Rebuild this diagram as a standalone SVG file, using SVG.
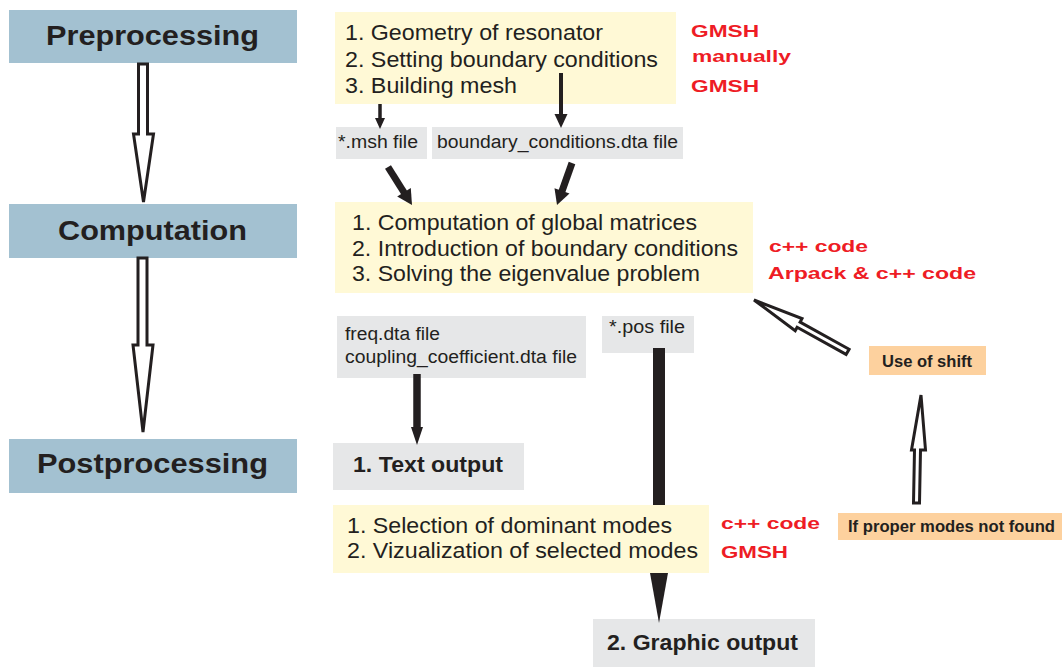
<svg xmlns="http://www.w3.org/2000/svg" width="1063" height="667" viewBox="0 0 1063 667">
<style>
.stage{fill:#a3c1d1}
.yel{fill:#fff9d6}
.gry{fill:#e6e7e8}
.org{fill:#fdd19e}
.t{font-family:"Liberation Sans",Arial,sans-serif;fill:#231f20}
.big{font-size:28px;font-weight:bold}
.main{font-size:22px}
.file{font-size:18px}
.out{font-size:22px;font-weight:bold}
.note{font-size:16px;font-weight:bold}
.red{font-family:"Liberation Sans",Arial,sans-serif;font-size:16px;font-weight:bold;fill:#ee1c25}
.hollow{fill:#fff;stroke:#231f20;stroke-width:3;stroke-linejoin:miter}
.solid{fill:#231f20}
.shaft{stroke:#231f20;fill:none}
</style>
<rect width="1063" height="667" fill="#fff"/>

<g id="preprocessing">
<rect class="stage" x="9" y="10" width="288" height="53"/>
<text class="t big" x="46" y="45" textLength="213" lengthAdjust="spacingAndGlyphs">Preprocessing</text>
</g>
<g id="computation">
<rect class="stage" x="9" y="204" width="288" height="54"/>
<text class="t big" x="58" y="240" textLength="189" lengthAdjust="spacingAndGlyphs">Computation</text>
</g>
<g id="postprocessing">
<rect class="stage" x="9" y="439" width="288" height="54"/>
<text class="t big" x="37" y="473" textLength="231" lengthAdjust="spacingAndGlyphs">Postprocessing</text>
</g>

<g id="pre-steps">
<rect class="yel" x="335" y="12" width="341" height="92"/>
<text class="t main" x="345" y="40" textLength="258" lengthAdjust="spacingAndGlyphs">1. Geometry of resonator</text>
<text class="t main" x="345" y="67" textLength="313" lengthAdjust="spacingAndGlyphs">2. Setting boundary conditions</text>
<text class="t main" x="345" y="93" textLength="172" lengthAdjust="spacingAndGlyphs">3. Building mesh</text>
</g>
<g id="pre-tools">
<text class="red" x="691" y="37" textLength="68" lengthAdjust="spacingAndGlyphs">GMSH</text>
<text class="red" x="692" y="62" textLength="99" lengthAdjust="spacingAndGlyphs">manually</text>
<text class="red" x="691" y="92" textLength="68" lengthAdjust="spacingAndGlyphs">GMSH</text>
</g>
<g id="msh-file">
<rect class="gry" x="336" y="127" width="91" height="32"/>
<text class="t file" x="338" y="148" textLength="80" lengthAdjust="spacingAndGlyphs">*.msh file</text>
</g>
<g id="bc-file">
<rect class="gry" x="432" y="127" width="251" height="32"/>
<text class="t file" x="437" y="148" textLength="241" lengthAdjust="spacingAndGlyphs">boundary_conditions.dta file</text>
</g>

<g id="comp-steps">
<rect class="yel" x="335" y="202" width="418" height="91"/>
<text class="t main" x="352" y="230" textLength="345" lengthAdjust="spacingAndGlyphs">1. Computation of global matrices</text>
<text class="t main" x="352" y="256" textLength="386" lengthAdjust="spacingAndGlyphs">2. Introduction of boundary conditions</text>
<text class="t main" x="352" y="281" textLength="348" lengthAdjust="spacingAndGlyphs">3. Solving the eigenvalue problem</text>
</g>
<g id="comp-tools">
<text class="red" x="769" y="252" textLength="99" lengthAdjust="spacingAndGlyphs">c++ code</text>
<text class="red" x="768" y="279" textLength="208" lengthAdjust="spacingAndGlyphs">Arpack &amp; c++ code</text>
</g>

<g id="freq-files">
<rect class="gry" x="337" y="316" width="249" height="62"/>
<text class="t file" x="345" y="340" textLength="95" lengthAdjust="spacingAndGlyphs">freq.dta file</text>
<text class="t file" x="345" y="363" textLength="232" lengthAdjust="spacingAndGlyphs">coupling_coefficient.dta file</text>
</g>
<g id="pos-file">
<rect class="gry" x="602" y="316" width="92" height="37"/>
<text class="t file" x="609" y="333" textLength="76" lengthAdjust="spacingAndGlyphs">*.pos file</text>
</g>
<g id="text-output">
<rect class="gry" x="333" y="443" width="191" height="47"/>
<text class="t out" x="353" y="472" textLength="150" lengthAdjust="spacingAndGlyphs">1. Text output</text>
</g>
<g id="graphic-output">
<rect class="gry" x="593" y="619" width="222" height="48"/>
<text class="t out" x="607" y="650" textLength="191" lengthAdjust="spacingAndGlyphs">2. Graphic output</text>
</g>
<g id="use-of-shift">
<rect class="org" x="869" y="346" width="117" height="29"/>
<text class="t note" x="882" y="367" textLength="90" lengthAdjust="spacingAndGlyphs">Use of shift</text>
</g>
<g id="modes-not-found">
<rect class="org" x="838" y="513" width="224" height="27"/>
<text class="t note" x="848" y="532" textLength="207" lengthAdjust="spacingAndGlyphs">If proper modes not found</text>
</g>

<g id="connectors">
<polygon class="hollow" points="138.5,64 147.5,64 147.5,134 153.5,134 143.5,202 133.5,134 138.5,134"/>
<polygon class="hollow" points="138,258 147,258 147,345 153,345 143,432 133,345 138,345"/>
<line class="shaft" x1="380" y1="104" x2="380" y2="119" stroke-width="3.5"/>
<polygon class="solid" points="375,118 385,118 380,129"/>
<line class="shaft" x1="561" y1="73" x2="561" y2="115" stroke-width="4"/>
<polygon class="solid" points="554.5,114 567.5,114 561,128"/>
<line class="shaft" x1="388" y1="167" x2="405" y2="194" stroke-width="7"/>
<polygon class="solid" points="397.2,196.6 410.8,188 412,205"/>
<line class="shaft" x1="572" y1="163" x2="561.7" y2="192" stroke-width="7"/>
<polygon class="solid" points="554.5,188.2 569.5,193.6 557,205"/>
<line class="shaft" x1="417" y1="374" x2="417" y2="428" stroke-width="7.5"/>
<polygon class="solid" points="411,427 423,427 417,445"/>
<rect class="solid" x="653" y="348" width="12" height="226"/>
<polygon class="solid" points="650,573 668,573 659,623"/>
<polygon class="hollow" points="754,300 802,318.6 800.1,322.1 849.1,349.2 846.1,354.4 797.1,327.3 795.2,330.8"/>
<polygon class="hollow" points="921,395 925.5,450 920.5,450 919.5,503 913.5,503 914.5,450 911.5,450"/>
</g>

<g id="post-steps">
<rect class="yel" x="333" y="505" width="376" height="68"/>
<text class="t main" x="347" y="533" textLength="325" lengthAdjust="spacingAndGlyphs">1. Selection of dominant modes</text>
<text class="t main" x="347" y="558" textLength="351" lengthAdjust="spacingAndGlyphs">2. Vizualization of selected modes</text>
</g>
<g id="post-tools">
<text class="red" x="721" y="529" textLength="99" lengthAdjust="spacingAndGlyphs">c++ code</text>
<text class="red" x="721" y="558" textLength="67" lengthAdjust="spacingAndGlyphs">GMSH</text>
</g>
</svg>
